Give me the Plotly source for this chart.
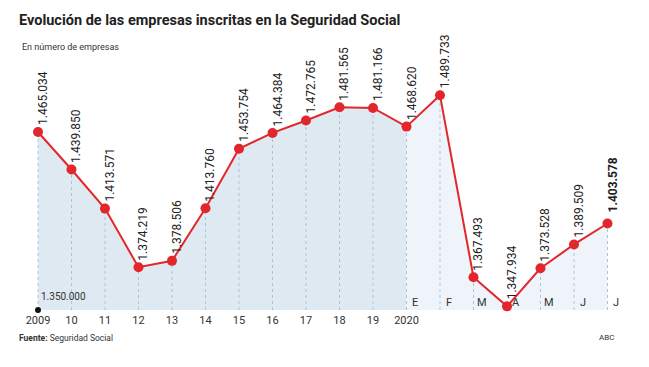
import plotly.graph_objects as go

years = ["2009", "10", "11", "12", "13", "14", "15", "16", "17", "18", "19", "2020"]
months = ["E", "F", "M", "A", "M", "J", "J"]
values = [1465034, 1439850, 1413571, 1374219, 1378506, 1413760, 1453754, 1464384,
          1472765, 1481565, 1481166, 1468620, 1489733, 1367493, 1347934, 1373528,
          1389509, 1403578]
labels = ["1.465.034", "1.439.850", "1.413.571", "1.374.219", "1.378.506", "1.413.760",
          "1.453.754", "1.464.384", "1.472.765", "1.481.565", "1.481.166", "1.468.620",
          "1.489.733", "1.367.493", "1.347.934", "1.373.528", "1.389.509", "1.403.578"]
base_label = "1.350.000"

Y_MIN, Y_MAX = 1345500, 1512000
xs = list(range(len(values)))
n_years = len(years)
month_start = n_years - 1

RED = "#e3262b"
FONT = "Roboto"

fig = go.Figure()

# fills
fig.add_trace(go.Scatter(x=xs[:n_years], y=values[:n_years], fill="tozeroy",
                         fillcolor="#dfe9f1", line=dict(width=0), mode="lines",
                         hoverinfo="skip", showlegend=False))
fig.add_trace(go.Scatter(x=xs[month_start:], y=values[month_start:], fill="tozeroy",
                         fillcolor="#eef4f9", line=dict(width=0), mode="lines",
                         hoverinfo="skip", showlegend=False))

# dotted drop lines
gx, gy = [], []
for x, v in zip(xs, values):
    gx += [x, x, None]
    gy += [Y_MIN, v, None]
fig.add_trace(go.Scatter(x=gx, y=gy, mode="lines",
                         line=dict(color="#a9c6dc", width=1, dash="dot"),
                         hoverinfo="skip", showlegend=False))

# main line
fig.add_trace(go.Scatter(x=xs, y=values, mode="lines+markers",
                         line=dict(color=RED, width=2),
                         marker=dict(color=RED, size=10),
                         cliponaxis=False, showlegend=False))

# origin dot
fig.add_trace(go.Scatter(x=[0], y=[Y_MIN], mode="markers",
                         marker=dict(color="#111111", size=6),
                         cliponaxis=False, showlegend=False))

annotations = []
for i, (x, v, t) in enumerate(zip(xs, values, labels)):
    bold = i == len(values) - 1
    annotations.append(dict(x=x, y=v, xref="x", yref="y", text=f"<b>{t}</b>" if bold else t,
                            textangle=-90, showarrow=False, xanchor="center", yanchor="bottom",
                            xshift=5, yshift=9 if bold else 5,
                            font=dict(family=FONT, size=12, color="#222222")))
for j, m in enumerate(months):
    annotations.append(dict(x=month_start + j, y=0, xref="x", yref="paper", text=m,
                            showarrow=False, xanchor="center", yanchor="bottom",
                            xshift=9, yshift=-1,
                            font=dict(family=FONT, size=11, color="#333333")))
annotations.append(dict(x=0, y=0, xref="x", yref="paper", text=base_label, showarrow=False,
                        xanchor="left", yanchor="bottom", xshift=1, yshift=6,
                        font=dict(family=FONT, size=10, color="#333333")))
annotations.append(dict(x=0, y=1.0, xref="paper", yref="paper", xanchor="left", yanchor="middle",
                        text="<b>Evolución de las empresas inscritas en la Seguridad Social</b>",
                        showarrow=False, xshift=-3, yshift=42,
                        font=dict(family=FONT, size=14.5, color="#222222")))
annotations.append(dict(x=0, y=1.0, xref="paper", yref="paper", xanchor="left", yanchor="middle",
                        text="En número de empresas", showarrow=False, xshift=0, yshift=15,
                        font=dict(family=FONT, size=9, color="#333333")))
annotations.append(dict(x=0, y=0, xref="paper", yref="paper", xanchor="left", yanchor="middle",
                        text="<b>Fuente:</b> Seguridad Social", showarrow=False, xshift=-3, yshift=-28,
                        font=dict(family=FONT, size=8.5, color="#333333")))
annotations.append(dict(x=1, y=0, xref="paper", yref="paper", xanchor="right", yanchor="middle",
                        text="ABC", showarrow=False, xshift=-14, yshift=-27,
                        font=dict(family=FONT, size=8, color="#333333")))

fig.update_layout(
    width=649, height=367,
    margin=dict(l=20, r=19, t=62, b=57),
    plot_bgcolor="white", paper_bgcolor="white",
    annotations=annotations,
    xaxis=dict(range=[-0.537, 17.672], showgrid=False, zeroline=False, showline=False,
               tickmode="array", tickvals=xs[:n_years], ticktext=years, ticks="",
               ticklabelstandoff=2,
               tickfont=dict(family=FONT, size=11, color="#333333"), fixedrange=True),
    yaxis=dict(range=[Y_MIN, Y_MAX], showgrid=False, zeroline=False, showline=False,
               showticklabels=False, fixedrange=True),
)

fig.write_html("out.html", config={"displayModeBar": False},
               post_script="document.body.style.margin='0';document.body.style.padding='0';")
